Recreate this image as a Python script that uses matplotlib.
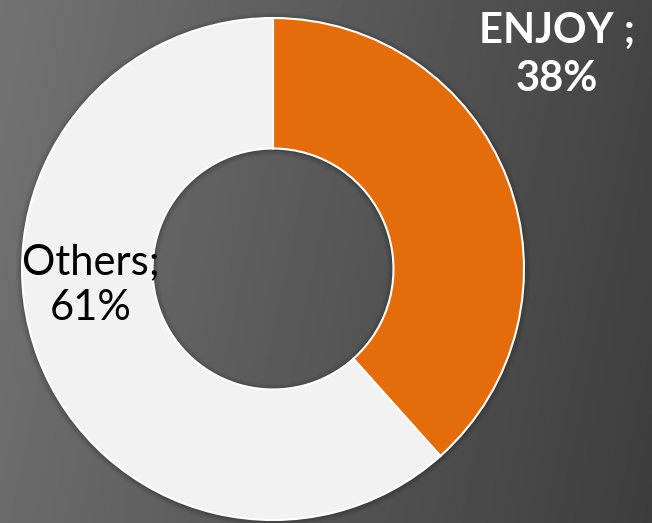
import numpy as np
import matplotlib.pyplot as plt

# data
labels = ["ENJOY", "Others"]
values = [38, 61]
colors = ["#E46C0A", "#F2F2F2"]

W, H = 652, 523

fig = plt.figure(figsize=(W / 100, H / 100), dpi=100)

# background gradient (lighter left, darker right)
bg = fig.add_axes([0, 0, 1, 1])
xx = np.linspace(0, 1, 300)
yy = np.linspace(0, 1, 200)
X, Y = np.meshgrid(xx, yy)
shade = 0.42 - 0.18 * X + 0.03 * Y
bg.imshow(shade, cmap="gray", vmin=0, vmax=1, aspect="auto",
          extent=[0, 1, 0, 1], origin="lower")
bg.axis("off")

ax = fig.add_axes([0, 0, 1, 1])

cx, cy = 273, H - 269
r = 251

# soft shadow
for k, a in [(6, 0.05), (4, 0.07), (2, 0.1)]:
    ax.pie([1], radius=r + k, center=(cx, cy - 1), colors=["black"],
           wedgeprops=dict(width=r * 0.52 + 2 * k, alpha=a, linewidth=0),
           frame=True)

ax.pie(values, radius=r, center=(cx, cy), colors=colors,
       startangle=90, counterclock=False,
       wedgeprops=dict(width=r * 0.52, edgecolor="white", linewidth=1.5),
       frame=True)
ax.set_xlim(0, W)
ax.set_ylim(0, H)
ax.set_aspect("equal")
ax.axis("off")

ax.text(557, H - 55, f"{labels[0]} ;\n{values[0]}%", ha="center", va="center",
        color="white", fontsize=30, fontweight="bold", family="Lato",
        linespacing=1.3)
ax.text(91, H - 285, f"{labels[1]};\n{values[1]}%", ha="center", va="center",
        color="black", fontsize=30, family="Lato", linespacing=1.25)

fig.savefig("out.png", dpi=100)
